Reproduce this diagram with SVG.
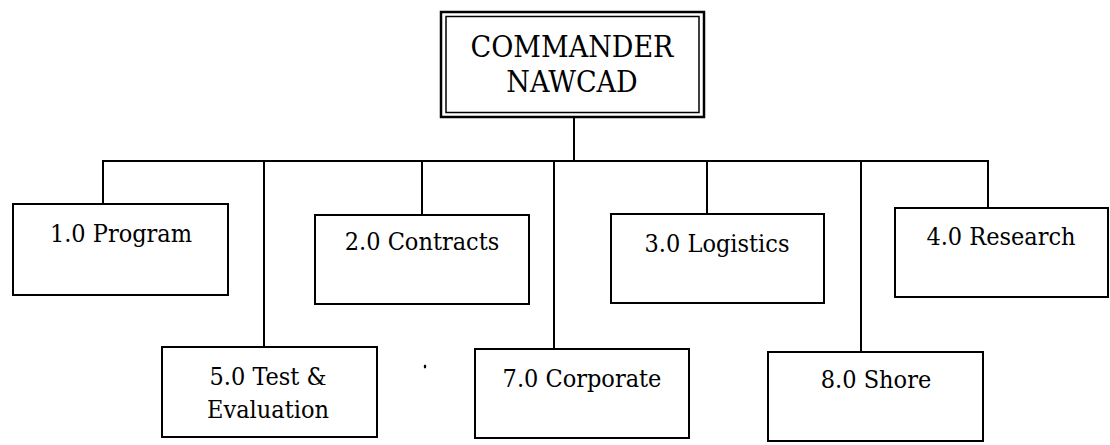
<svg xmlns="http://www.w3.org/2000/svg" width="1110" height="445" viewBox="0 0 1110 445">
<style>
.box{fill:#fff;stroke:#000;stroke-width:2}
text{font-family:'DejaVu Serif Condensed','DejaVu Serif',serif;font-size:25px;fill:#000;text-anchor:middle}
.big{font-size:30px}
.con line{stroke:#000;stroke-width:2}
</style>
<rect width="1110" height="445" fill="#fff"/>
<g id="connectors" class="con">
<line x1="574" y1="117" x2="574" y2="161"/>
<line x1="102" y1="161" x2="989" y2="161"/>
<line x1="103" y1="161" x2="103" y2="204"/>
<line x1="264" y1="161" x2="264" y2="347"/>
<line x1="422" y1="161" x2="422" y2="215"/>
<line x1="554" y1="161" x2="554" y2="349"/>
<line x1="707" y1="161" x2="707" y2="214"/>
<line x1="861" y1="161" x2="861" y2="352"/>
<line x1="988" y1="161" x2="988" y2="208"/>
</g>
<g id="commander">
<rect x="441" y="12" width="263" height="105" fill="#fff" stroke="#000" stroke-width="2.5"/>
<rect x="446" y="16.5" width="253" height="96" fill="none" stroke="#000" stroke-width="1.5"/>
<text class="big" x="572" y="57">COMMANDER</text>
<text class="big" x="572" y="92">NAWCAD</text>
</g>
<g id="n1">
<rect class="box" x="13" y="204" width="215" height="91"/>
<text x="121" y="242">1.0 Program</text>
</g>
<g id="n2">
<rect class="box" x="315" y="215" width="214" height="89"/>
<text x="422" y="250">2.0 Contracts</text>
</g>
<g id="n3">
<rect class="box" x="611" y="214" width="213" height="89"/>
<text x="717" y="252">3.0 Logistics</text>
</g>
<g id="n4">
<rect class="box" x="895" y="208" width="213" height="89"/>
<text x="1001" y="245">4.0 Research</text>
</g>
<g id="n5">
<rect class="box" x="162" y="347" width="215" height="90"/>
<text x="268" y="385">5.0 Test &amp;</text>
<text x="268" y="418">Evaluation</text>
</g>
<g id="n7">
<rect class="box" x="475" y="349" width="214" height="89"/>
<text x="582" y="387">7.0 Corporate</text>
</g>
<g id="n8">
<rect class="box" x="768" y="352" width="215" height="89"/>
<text x="876" y="388">8.0 Shore</text>
</g>
<ellipse cx="425" cy="366.5" rx="1.2" ry="2" fill="#000"/>
</svg>
